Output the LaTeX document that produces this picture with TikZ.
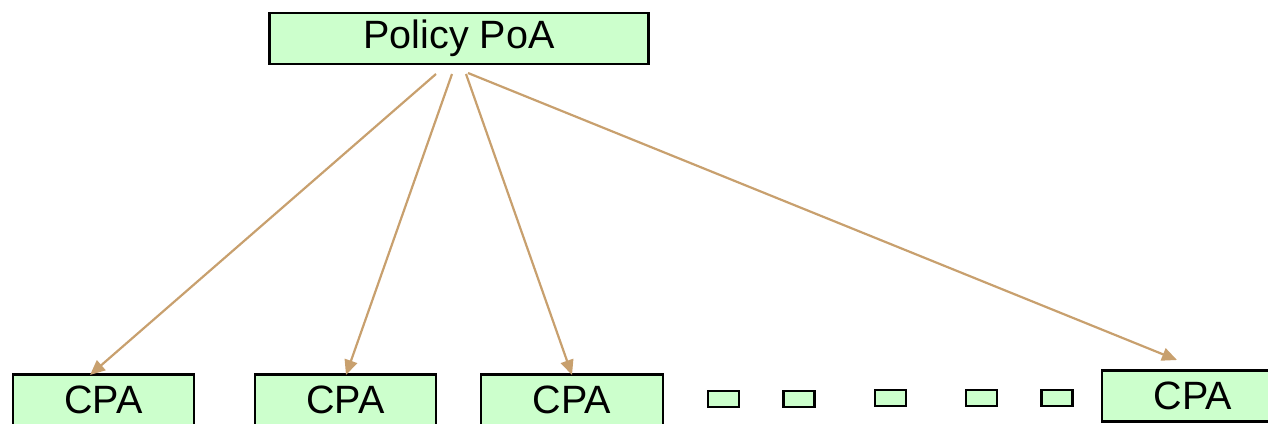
\documentclass[tikz,border=0pt]{standalone}
\usepackage{fontspec}
\setmainfont{Liberation Sans}
\usetikzlibrary{arrows.meta}
\definecolor{boxfill}{HTML}{CCFFCC}
\definecolor{arrowtan}{HTML}{C8A06E}
\begin{document}
\begin{tikzpicture}[x=1pt,y=-1pt,
  bigbox/.style={draw=black,line width=2.5pt,fill=boxfill,inner sep=0pt,
    minimum height=51pt,font=\fontsize{39.5}{45}\selectfont},
  dotbox/.style={draw=black,line width=2.5pt,fill=boxfill,inner sep=0pt,
    minimum width=31pt,minimum height=16pt},
  link/.style={draw=arrowtan,line width=2.2pt,-{Triangle[length=15pt,width=13pt]}}]
\useasboundingbox (0,0) rectangle (1268,423);
\node[bigbox,minimum width=379pt] (poa) at (459,38.5) {Policy PoA};
\node[bigbox,minimum width=181pt] (c1) at (103.5,400) {CPA};
\node[bigbox,minimum width=181pt] (c2) at (345.5,400) {CPA};
\node[bigbox,minimum width=182pt] (c3) at (572,400) {CPA};
\node[bigbox,minimum width=182pt] (c4) at (1193,396) {CPA};
\node[dotbox] (d1) at (723.5,399) {};
\node[dotbox] (d2) at (799,399) {};
\node[dotbox] (d3) at (890.5,398) {};
\node[dotbox] (d4) at (981.5,398) {};
\node[dotbox] (d5) at (1057,398) {};
\coordinate (s1) at (436,74);
\coordinate (s2) at (452,74);
\coordinate (s3) at (466,74);
\coordinate (s4) at (468,73);
\coordinate (e1) at (90,375);
\coordinate (e2) at (346,375);
\coordinate (e3) at (572,375);
\coordinate (e4) at (1177,360);
\draw[link] (s1) -- (e1);
\draw[link] (s2) -- (e2);
\draw[link] (s3) -- (e3);
\draw[link] (s4) -- (e4);
\end{tikzpicture}
\end{document}
